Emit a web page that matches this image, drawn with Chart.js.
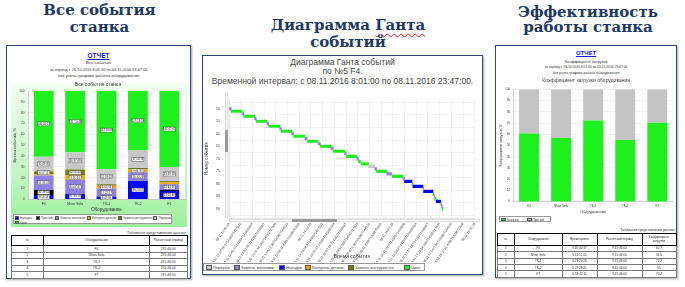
<!DOCTYPE html>
<html lang="ru">
<head>
<meta charset="utf-8">
<title>События станка</title>
<script src="https://cdn.jsdelivr.net/npm/chart.js@4.4.0/dist/chart.umd.min.js"></script>
<style>
  html, body { margin: 0; padding: 0; background: #fff; }
  body { position: relative; width: 685px; height: 287px; overflow: hidden;
         font-family: "Liberation Sans", Arial, sans-serif; color: #333; }
  .heading { position: absolute; text-align: center; font-family: "DejaVu Serif", serif;
             font-weight: bold; font-size: 15px; line-height: 17px; color: #1f3864; }
  .wavy { text-decoration: underline wavy #e02020; text-decoration-thickness: 1px; text-underline-offset: 3px; }
  .frame { position: absolute; box-sizing: border-box; border: 1.5px solid #2b4a76;
           box-shadow: 1px 1px 2px rgba(0,0,0,0.35); background: #fff; }
  .line { position: absolute; text-align: center; white-space: nowrap; }
  .report { color: #1a1aff; font-weight: bold; text-decoration: underline; }
  .box { position: absolute; }
  .green-bg { position: absolute; background: linear-gradient(#f3fff3 0%, #c9f7c9 55%, #9def9d 100%); }
  .legend { position: absolute; box-sizing: border-box; border: 0.5px solid #999; background: #fff; }
  .li { position: absolute; display: flex; align-items: center; white-space: nowrap; color: #333; }
  .li .sw { display: inline-block; box-sizing: border-box; border: 0.5px solid #555; margin-right: 1px; }
  .caption { position: absolute; white-space: nowrap; text-align: right; }
  table.data { position: absolute; border-collapse: collapse; border: 1px solid #000; table-layout: fixed; }
  table.data td, table.data th { border: 0.5px solid #777; padding: 0; text-align: center;
                                 font-weight: normal; overflow: hidden; white-space: nowrap; }
  table.data th { border: 1px solid #000; line-height: 1.1; white-space: normal; }
</style>
</head>
<body>

<!-- Заголовки -->
<div class="heading" style="left:0; top:2px; width:199px;">Все события<br>станка</div>
<div class="heading" style="left:248px; top:17px; width:200px;">Диаграмма <span class="wavy">Ганта</span><br>событий</div>
<div class="heading" style="left:488px; top:5px; width:200px; line-height:15px;">Эффективность<br>работы станка</div>

<!-- Все события станка -->
<div class="frame" style="left:6px; top:45px; width:185px; height:234px;"></div>
<div class="line report" style="left:6px; width:185px; top:52px; font-size:6.5px;">ОТЧЕТ</div>
<div class="line" style="left:6px; width:185px; top:59.5px; font-size:4.2px;">Все события</div>
<div class="line" style="left:6px; width:185px; top:66.5px; font-size:3.9px;">за период с 26.10.2016 8:01:00 по 04.11.2016 23:47:00</div>
<div class="line" style="left:6px; width:185px; top:72.7px; font-size:4.3px;">без учета графика работы оборудования</div>
<div class="green-bg" style="left:11px; top:82px; width:176px; height:145px;"></div>
<div class="box" style="left:11px; top:82px; width:176px; height:131px;"><canvas id="all-events-chart"></canvas></div>
<div class="legend" id="all-events-legend" style="left:13px; top:214px; width:159px; height:10px;"></div>
<div class="caption" style="right:499px; top:231px; font-size:3.7px;">Табличное представление данных</div>
<table class="data" id="all-events-table" style="left:10.5px; top:235px; width:177px; font-size:3.4px;"></table>

<!-- Диаграмма Ганта -->
<div class="frame" style="left:202px; top:55px; width:281px; height:220px;"></div>
<div class="line" style="left:202px; width:281px; top:56.5px; font-size:8.5px; color:#444;">Диаграмма Ганта событий</div>
<div class="line" style="left:202px; width:281px; top:66px; font-size:8.5px; color:#444;">по №5 F4.</div>
<div class="line" style="left:202px; width:281px; top:76px; font-size:8.5px; color:#444;">Временной интервал: с 08.11.2016 8:01:00 по 08.11.2016 23:47:00.</div>
<div class="box" style="left:203px; top:88px; width:279px; height:174px;"><canvas id="gantt-chart"></canvas></div>
<!-- полосы прокрутки области просмотра -->
<div class="box" style="left:224.5px; top:93px; width:3px; height:125px; border:0.5px solid #ddd; box-sizing:border-box;"></div>
<div class="box" style="left:224.5px; top:130px; width:3px; height:22px; background:#9a9a9a;"></div>
<div class="box" style="left:229px; top:218.5px; width:251px; height:3.5px; border:0.5px solid #ddd; box-sizing:border-box;"></div>
<div class="box" style="left:292px; top:218.5px; width:45px; height:3.5px; background:#9a9a9a;"></div>
<div class="legend" id="gantt-legend" style="left:203px; top:262.5px; width:222px; height:8.5px;"></div>

<!-- Эффективность работы станка -->
<div class="frame" style="left:495px; top:45px; width:182px; height:233px;"></div>
<div class="line report" style="left:495px; width:182px; top:50px; font-size:6px;">ОТЧЕТ</div>
<div class="line" style="left:495px; width:182px; top:58.5px; font-size:4px;">Коэффициент загрузки</div>
<div class="line" style="left:495px; width:182px; top:65px; font-size:3.3px;">за период с 26.10.2016 8:01:00 по 04.11.2016 23:47:00</div>
<div class="line" style="left:495px; width:182px; top:70.7px; font-size:3.5px;">без учета графика работы оборудования</div>
<div class="box" style="left:499px; top:76px; width:176px; height:140px;"><canvas id="load-chart"></canvas></div>
<div class="legend" id="load-legend" style="left:499px; top:215.5px; width:52px; height:6px;"></div>
<div class="caption" style="right:10px; top:228.3px; font-size:3.4px;">Табличное представление данных</div>
<table class="data" id="load-table" style="left:496.5px; top:233.3px; width:180px; font-size:3.1px;"></table>

<script>
// ===== Данные =====

// Оборудование
const machines = ['F4', 'Nhon Sefa', 'TK-1', 'TK-2', 'F7'];

// Все события станка, % времени расчетного периода
const naladka = [4.0, 5.0, 2.5, 17.0, 7.7];
const prostoy = [4.6, 0, 0, 0, 0.8];
const zamenaZagotovki = [13.4, 13.0, 7.5, 8.0, 5.5];
const kontrolDetali = [1.0, 4.0, 2.6, 2.6, 1.6];
const zamenaInstrumenta = [3.0, 5.6, 1.4, 1.4, 1.4];
const pereryv = [13.3, 15.8, 13.8, 16.0, 12.8];
const cikl = [60.7, 56.6, 72.2, 55.0, 70.2];

// Коэффициент загрузки, %
const loadShare = [60.7, 56.6, 72.2, 55.0, 70.2];
const idleShare = [39.3, 43.4, 27.8, 45.0, 29.8];

// Таблицы
const periodHours = '231:46:00';
const periodDays = '9.15:46:00';
const cycleTimes = ['5.20:40:37', '5.11:11:05', '6.23:20:26', '5.07:28:21', '6.18:42:11'];

// Диаграмма Ганта: номер события, тип, начало, конец (08.11.2016)
const eventNum = [50, 51, 52, 53, 54, 55, 56, 57, 58, 59,
                  60, 61, 62, 63, 64, 65, 66, 67, 68, 69,
                  70, 71, 72, 73, 74, 75, 76, 77, 78, 79,
                  80, 81, 82, 83, 84, 85, 86, 87, 88, 89, 90];
const eventType = ['Замена заготовки', 'Цикл', 'Замена заготовки', 'Цикл', 'Замена заготовки',
                   'Цикл', 'Замена заготовки', 'Цикл', 'Замена заготовки', 'Цикл',
                   'Замена заготовки', 'Цикл', 'Замена заготовки', 'Цикл', 'Замена заготовки',
                   'Цикл', 'Замена заготовки', 'Цикл', 'Замена заготовки', 'Цикл',
                   'Замена заготовки', 'Цикл', 'Цикл', 'Перерыв', 'Замена заготовки',
                   'Цикл', 'Замена заготовки', 'Цикл', 'Замена заготовки', 'Наладка',
                   'Замена заготовки', 'Наладка', 'Замена заготовки', 'Наладка', 'Цикл',
                   'Замена заготовки', 'Цикл', 'Наладка', 'Замена заготовки', 'Замена заготовки', 'Цикл'];
const eventStart = ['12:09:20', '12:12:50', '12:29:30', '12:32:00', '12:49:00',
                    '12:51:30', '13:08:00', '13:11:00', '13:28:00', '13:30:30',
                    '13:46:30', '13:49:30', '14:07:00', '14:10:30', '14:27:30',
                    '14:31:00', '14:47:30', '14:51:00', '15:08:30', '15:11:00',
                    '15:27:30', '15:30:00', '15:34:00', '15:45:30', '15:55:30',
                    '15:58:00', '16:14:00', '16:22:30', '16:39:00', '16:41:30',
                    '16:53:00', '16:54:30', '17:10:00', '17:11:00', '17:25:30',
                    '17:27:00', '17:28:00', '17:30:30', '17:37:30', '17:38:30', '17:40:00'];
const eventEnd = ['12:12:50', '12:29:30', '12:32:00', '12:49:00', '12:51:30',
                  '13:08:00', '13:11:00', '13:28:00', '13:30:30', '13:46:30',
                  '13:49:30', '14:07:00', '14:10:30', '14:27:30', '14:31:00',
                  '14:47:30', '14:51:00', '15:08:30', '15:11:00', '15:27:30',
                  '15:30:00', '15:33:00', '15:45:30', '15:55:30', '15:58:00',
                  '16:14:00', '16:21:30', '16:39:00', '16:41:30', '16:53:00',
                  '16:54:30', '17:10:00', '17:11:00', '17:25:30', '17:27:00',
                  '17:28:00', '17:30:30', '17:37:30', '17:38:30', '17:40:00', '17:41:00'];

// Окно шкалы времени и шаг меток
const ganttFrom = '12:09:20';
const ganttTo = '18:30:20';
const ganttStep = '00:18:20';

// Цвета типов событий
const eventColors = {
    'Наладка': '#0000ff',
    'Простой': '#000000',
    'Замена заготовки': '#8e80e8',
    'Контроль детали': '#ffa500',
    'Замена инструмента': '#808000',
    'Перерыв': '#c8c8c8',
    'Цикл': '#1ef01e'
};

Chart.defaults.font.family = '"Liberation Sans", Arial, sans-serif';
Chart.defaults.color = '#444';
Chart.defaults.animation = false;

// ===== Вспомогательные функции =====

function toSec(t) {
    const p = t.split(':').map(Number);
    return p[0] * 3600 + p[1] * 60 + p[2];
}

function pad2(n) {
    return String(n).padStart(2, '0');
}

function fmtClock(sec) {
    return pad2(Math.floor(sec / 3600)) + ':' + pad2(Math.floor(sec % 3600 / 60)) + ':' + pad2(sec % 60);
}

// доля периода в ч:мм:сс
function pctToHours(pct) {
    const total = toSec(periodHours);
    const s = Math.round(total * pct / 100);
    return Math.floor(s / 3600) + ':' + pad2(Math.floor(s % 3600 / 60)) + ':' + pad2(s % 60);
}

// белый фон области построения
const plotBackground = {
    id: 'plotBackground',
    beforeDraw(chart, args, opts) {
        const { ctx, chartArea: a } = chart;
        ctx.save();
        ctx.fillStyle = opts.color || '#fff';
        ctx.fillRect(a.left, a.top, a.width, a.height);
        ctx.restore();
    }
};

// подписи значений в белых рамках
const segmentLabels = {
    id: 'segmentLabels',
    afterDatasetsDraw(chart) {
        const ctx = chart.ctx;
        ctx.save();
        ctx.font = '2.8px "Liberation Sans", Arial';
        ctx.textAlign = 'center';
        ctx.textBaseline = 'middle';
        chart.data.datasets.forEach((ds, i) => {
            chart.getDatasetMeta(i).data.forEach((bar, j) => {
                const p = bar.getProps(['x', 'y', 'base'], true);
                if (p.base - p.y < 2) return;
                const cy = (p.y + p.base) / 2;
                ctx.fillStyle = '#fff';
                ctx.fillRect(p.x - 6, cy - 2, 12, 4);
                ctx.strokeStyle = '#333';
                ctx.lineWidth = 0.4;
                ctx.strokeRect(p.x - 6, cy - 2, 12, 4);
                ctx.fillStyle = '#222';
                ctx.fillText(pctToHours(ds.data[j]), p.x, cy + 0.2);
            });
        });
        ctx.restore();
    }
};

// ===== Легенды =====

function buildLegend(id, labels, names, layout, sw, fontSize) {
    const box = document.getElementById(id);
    labels.forEach((label, i) => {
        const item = document.createElement('div');
        item.className = 'li';
        item.style.left = layout[i][0] + 'px';
        item.style.top = layout[i][1] + 'px';
        item.style.fontSize = fontSize + 'px';
        item.innerHTML = `<span class="sw" style="width:${sw[0]}px;height:${sw[1]}px;background:${eventColors[label]}"></span>`;
        const text = document.createElement('span');
        text.textContent = names ? names[i] : label;
        item.appendChild(text);
        box.appendChild(item);
    });
}

// ===== Таблицы =====

function buildTables() {
    let html = `<colgroup><col style="width:32.5px"><col style="width:106px"><col></colgroup>
        <tr style="height:10px"><th>№</th><th>Оборудование</th><th>Расчетный период</th></tr>`;
    machines.forEach((m, i) => {
        html += `<tr style="height:6.5px"><td>${i + 1}</td><td>${m}</td><td>${periodHours}</td></tr>`;
    });
    document.getElementById('all-events-table').innerHTML = html;

    html = `<colgroup><col style="width:17.5px"><col style="width:47.5px"><col style="width:35px"><col style="width:45px"><col></colgroup>
        <tr style="height:11.5px"><th>№</th><th>Оборудование</th><th>Время цикла</th><th>Расчетный период</th><th>Коэффициент загрузки</th></tr>`;
    machines.forEach((m, i) => {
        html += `<tr style="height:6.4px"><td>${i + 1}</td><td>${m}</td><td>${cycleTimes[i]}</td><td>${periodDays}</td><td>${loadShare[i]}</td></tr>`;
    });
    document.getElementById('load-table').innerHTML = html;
}

// ===== Графики =====

function initAllEventsChart() {
    const series = [
        ['Наладка', naladka], ['Простой', prostoy], ['Замена заготовки', zamenaZagotovki],
        ['Контроль детали', kontrolDetali], ['Замена инструмента', zamenaInstrumenta],
        ['Перерыв', pereryv], ['Цикл', cikl]
    ];
    new Chart(document.getElementById('all-events-chart'), {
        type: 'bar',
        data: {
            labels: machines,
            datasets: series.map(([label, data]) => ({
                label: label,
                data: data,
                backgroundColor: eventColors[label],
                borderWidth: 0,
                categoryPercentage: 1,
                barPercentage: 0.63
            }))
        },
        options: {
            responsive: true,
            maintainAspectRatio: false,
            layout: { padding: { left: 0, right: 2, top: 0, bottom: 0 } },
            scales: {
                x: {
                    stacked: true,
                    grid: { display: false, tickLength: 2 },
                    border: { color: '#aaa', width: 0.5 },
                    ticks: { font: { size: 3.4 }, padding: 1, color: '#333' },
                    title: { display: true, text: 'Оборудование', font: { size: 4.5 }, padding: { top: 0, bottom: 1 }, color: '#333' },
                    afterFit: s => { s.height = 13.7; }
                },
                y: {
                    stacked: true,
                    min: 0,
                    max: 100,
                    ticks: { stepSize: 10, font: { size: 3.2 }, padding: 1.5, color: '#333' },
                    grid: { color: '#e4e4e4', lineWidth: 0.5, tickLength: 2 },
                    border: { color: '#aaa', width: 0.5 },
                    title: { display: true, text: 'Время событий, %', font: { size: 4 }, padding: { top: 1, bottom: 0 }, color: '#333' },
                    afterFit: s => { s.width = 17; }
                }
            },
            plugins: {
                legend: { display: false },
                tooltip: { enabled: false },
                title: { display: true, text: 'Все события станка', font: { size: 5, weight: 'normal' }, padding: { top: 0, bottom: 3 }, color: '#444' },
                plotBackground: { color: '#ffffff' }
            }
        },
        plugins: [plotBackground, segmentLabels]
    });
}

function initLoadChart() {
    new Chart(document.getElementById('load-chart'), {
        type: 'bar',
        data: {
            labels: machines,
            datasets: [
                { label: 'Загрузка', data: loadShare, backgroundColor: eventColors['Цикл'] },
                { label: 'Простой', data: idleShare, backgroundColor: '#c4c4c4' }
            ].map(d => Object.assign(d, { borderWidth: 0, categoryPercentage: 1, barPercentage: 0.62 }))
        },
        options: {
            responsive: true,
            maintainAspectRatio: false,
            layout: { padding: { left: 0, right: 1.7, top: 0, bottom: 0 } },
            scales: {
                x: {
                    stacked: true,
                    grid: { display: false, tickLength: 2 },
                    border: { color: '#aaa', width: 0.5 },
                    ticks: { font: { size: 3 }, padding: 1, color: '#333' },
                    title: { display: true, text: 'Оборудование', font: { size: 3.8 }, padding: { top: 0, bottom: 2.2 }, color: '#333' },
                    afterFit: s => { s.height = 14.3; }
                },
                y: {
                    stacked: true,
                    min: 0,
                    max: 100,
                    ticks: { stepSize: 10, font: { size: 2.8 }, padding: 1, color: '#333' },
                    grid: { color: '#e8e8e8', lineWidth: 0.5, tickLength: 2 },
                    border: { color: '#aaa', width: 0.5 },
                    title: { display: true, text: 'Коэффициент загрузки, %', font: { size: 3.5 }, padding: { top: 0, bottom: 0 }, color: '#333' },
                    afterFit: s => { s.width = 14; }
                }
            },
            plugins: {
                legend: { display: false },
                tooltip: { enabled: false },
                title: { display: true, text: 'Коэффициент загрузки оборудования', font: { size: 5, weight: 'normal' }, padding: { top: 2, bottom: 5.3 }, color: '#444' }
            }
        }
    });
}

function initGanttChart() {
    const t0 = toSec(ganttFrom);
    const groups = ['Перерыв', 'Замена заготовки', 'Наладка', 'Контроль детали', 'Замена инструмента', 'Цикл'];
    const datasets = groups.map(g => ({
        label: g,
        backgroundColor: eventColors[g],
        borderWidth: 0,
        barThickness: 2.5,
        stack: 'events',
        data: eventNum
            .map((n, i) => ({ y: n, x: [toSec(eventStart[i]) - t0, toSec(eventEnd[i]) - t0], type: eventType[i] }))
            .filter(p => p.type === g)
    }));

    new Chart(document.getElementById('gantt-chart'), {
        type: 'bar',
        data: { datasets: datasets },
        options: {
            indexAxis: 'y',
            responsive: true,
            maintainAspectRatio: false,
            layout: { padding: { left: 0, right: 2, top: 5, bottom: 0 } },
            scales: {
                x: {
                    type: 'linear',
                    stacked: false,
                    min: 0,
                    max: toSec(ganttTo) - t0,
                    grid: { color: '#e6e6e6', lineWidth: 0.5, drawTicks: false },
                    border: { color: '#ccc', width: 0.5 },
                    ticks: {
                        stepSize: toSec(ganttStep),
                        includeBounds: false,
                        autoSkip: false,
                        minRotation: 55,
                        maxRotation: 55,
                        padding: 4,
                        font: { size: 3.3 },
                        color: '#444',
                        callback: v => '08.11 ' + fmtClock(t0 + v)
                    },
                    title: { display: true, text: 'Время события', font: { size: 5 }, padding: { top: 0, bottom: 2 }, color: '#444' },
                    afterFit: s => { s.height = 44; }
                },
                y: {
                    type: 'linear',
                    reverse: true,
                    min: 48.8,
                    max: 91,
                    grid: { color: '#e6e6e6', lineWidth: 0.5, drawTicks: false },
                    border: { color: '#ccc', width: 0.5 },
                    ticks: { stepSize: 5, includeBounds: false, padding: 9, font: { size: 3.5 }, color: '#444' },
                    title: { display: true, text: 'Номер события', font: { size: 4.5 }, padding: { top: 1.3, bottom: 0 }, color: '#444' },
                    afterFit: s => { s.width = 26; }
                }
            },
            plugins: {
                legend: { display: false },
                tooltip: { enabled: false }
            }
        }
    });
}

document.addEventListener('DOMContentLoaded', function() {
    buildTables();
    buildLegend('all-events-legend',
        ['Наладка', 'Простой', 'Замена заготовки', 'Контроль детали', 'Замена инструмента', 'Перерыв', 'Цикл'], null,
        [[1, 1], [22, 1], [41.3, 1], [73, 1], [104.3, 1], [139.3, 1], [1, 5.5]], [4, 3.3], 3);
    buildLegend('gantt-legend',
        ['Перерыв', 'Замена заготовки', 'Наладка', 'Контроль детали', 'Замена инструмента', 'Цикл'], null,
        [[2, 1.5], [30, 1.5], [75, 1.5], [101, 1.5], [144, 1.5], [200, 1.5]], [6, 4.5], 4);
    buildLegend('load-legend', ['Цикл', 'Перерыв'], ['Загрузка', 'Простой'],
        [[1, 1], [27, 1]], [4.5, 3.5], 3);
    initAllEventsChart();
    initLoadChart();
    initGanttChart();
});
</script>
</body>
</html>
